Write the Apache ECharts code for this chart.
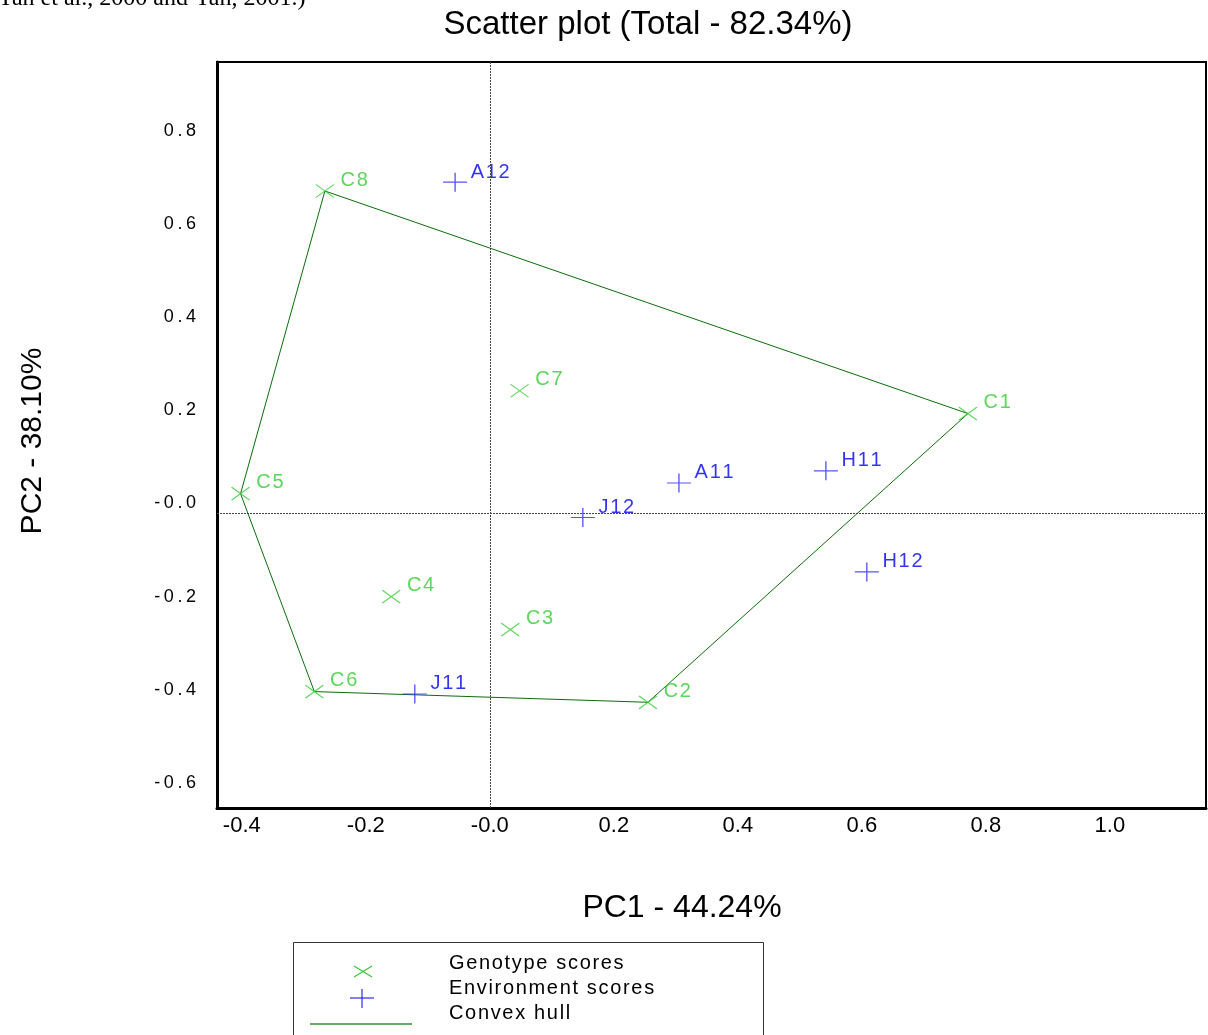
<!DOCTYPE html>
<html><head><meta charset="utf-8">
<script src="https://cdn.jsdelivr.net/npm/echarts@6/dist/echarts.min.js"></script>
<style>html,body{margin:0;padding:0;background:#fff}#c{width:1208px;height:1035px}</style>
</head><body><div id="c"></div>
<script>
// Genotype scores (green x)
const genoNames = ['C1','C2','C3','C4','C5','C6','C7','C8'];
const genoPC1 = [0.771, 0.255, 0.033, -0.159, -0.402, -0.283, 0.048, -0.266];
const genoPC2 = [0.193, -0.427, -0.271, -0.200, 0.021, -0.404, 0.242, 0.671];
// Environment scores (blue +)
const envNames = ['A11','A12','H11','H12','J11','J12'];
const envPC1 = [0.305, -0.056, 0.542, 0.608, -0.121, 0.150];
const envPC2 = [0.044, 0.690, 0.070, -0.147, -0.409, -0.030];
// Convex hull vertex order (genotypes)
const hullOrder = ['C8','C1','C2','C6','C5','C8'];
// Tick labels
const xTicks = [-0.4, -0.2, 0.0, 0.2, 0.4, 0.6, 0.8, 1.0];
const yTicks = [-0.6, -0.4, -0.2, 0.0, 0.2, 0.4, 0.6, 0.8];
// Reference (origin) lines
const refX = [0];
const refY = [-0.024];

const GREEN = '#33cc33', BLUE = '#0000f0', BLUEM = '#2a2aff', HULL = '#0b6e0b';
const genoData = genoNames.map((n,i)=>({name:n, value:[genoPC1[i], genoPC2[i]]}));
const envData = envNames.map((n,i)=>({name:n, value:[envPC1[i], envPC2[i]]}));
const hullData = hullOrder.map(n=>{const i=genoNames.indexOf(n);return [genoPC1[i], genoPC2[i]];});

const fmt = v => (Math.abs(v) < 1e-9 ? '-0.0' : v.toFixed(1));
const thin = s => s.split('').join('\u2009');
const hair = s => s.split('').join('\u200A');

const chart = echarts.init(document.getElementById('c'), null, {renderer:'canvas'});
chart.setOption({
  animation:false,
  backgroundColor:'#fff',
  grid:{left:217, right:2, top:62, bottom:227, show:true, borderColor:'#000', borderWidth:2, backgroundColor:'transparent'},
  xAxis:{type:'value', min:-0.44, max:1.155,
    axisLine:{show:true, onZero:false, lineStyle:{color:'#000', width:3}},
    axisTick:{show:false}, splitLine:{show:false},
    axisLabel:{customValues:xTicks, formatter:fmt, margin:7, color:'#000', fontSize:22, fontFamily:'Liberation Sans Narrow, Liberation Sans, Arial'}},
  yAxis:{type:'value', min:-0.654, max:0.948,
    axisLine:{show:true, onZero:false, lineStyle:{color:'#000', width:3}},
    axisTick:{show:false}, splitLine:{show:false},
    axisLabel:{customValues:yTicks, formatter:v=>thin(fmt(v)), margin:21, color:'#000', fontSize:18, fontFamily:'Liberation Sans, Arial'}},
  series:[
    {type:'line', data:hullData, showSymbol:false, symbol:'none', silent:true,
     lineStyle:{color:HULL, width:1}, z:2,
     markLine:{silent:true, symbol:'none', label:{show:false},
       lineStyle:{color:'#444', width:1, type:[2,1]},
       data:[...refX.map(v=>({xAxis:v})), ...refY.map(v=>({yAxis:v}))]}},
    {type:'scatter', data:genoData, symbol:'path://M0,0L18,13M18,0L0,13', symbolSize:[18,13], silent:true, z:3,
     itemStyle:{color:'rgba(0,0,0,0)', borderColor:GREEN, borderWidth:1.2},
     label:{show:true, formatter:p=>hair(p.name), position:'right', distance:6, offset:[0,-11], color:GREEN, fontSize:20, fontFamily:'Liberation Sans, Arial'}},
    {type:'scatter', data:envData, symbol:'path://M0,9.5L24,9.5M12,0L12,19', symbolSize:[24,19], silent:true, z:4,
     itemStyle:{color:'rgba(0,0,0,0)', borderColor:BLUEM, borderWidth:1.2},
     label:{show:true, formatter:p=>hair(p.name), position:'right', distance:3, offset:[0,-10], color:BLUE, fontSize:20, fontFamily:'Liberation Sans, Arial'}}
  ],
  graphic:[
    {type:'text', x:-3, y:11, style:{text:'Yan et al., 2000 and Yan, 2001.)', font:'24px "Liberation Serif", serif', fill:'#000', textVerticalAlign:'bottom'}},
    {type:'text', x:648, y:25, style:{text:'Scatter plot (Total - 82.34%)', font:'33px "Liberation Sans", Arial', fill:'#000', textAlign:'center', textVerticalAlign:'middle'}},
    {type:'text', x:682, y:908, style:{text:'PC1 - 44.24%', font:'32px "Liberation Sans", Arial', fill:'#000', textAlign:'center', textVerticalAlign:'middle'}},
    {type:'text', x:33, y:441, rotation:Math.PI/2, style:{text:'PC2 - 38.10%', font:'30px "Liberation Sans", Arial', fill:'#000', textAlign:'center', textVerticalAlign:'middle'}},
    {type:'rect', shape:{x:293.5, y:942.5, width:470, height:110}, style:{fill:'#fff', stroke:'#333', lineWidth:1}},
    {type:'polyline', shape:{points:[[354,966],[372,977]]}, style:{stroke:GREEN, lineWidth:1.2, fill:null}},
    {type:'polyline', shape:{points:[[372,966],[354,977]]}, style:{stroke:GREEN, lineWidth:1.2, fill:null}},
    {type:'polyline', shape:{points:[[350,998],[374,998]]}, style:{stroke:BLUEM, lineWidth:1.2, fill:null}},
    {type:'polyline', shape:{points:[[362,989],[362,1008]]}, style:{stroke:BLUEM, lineWidth:1.2, fill:null}},
    {type:'polyline', shape:{points:[[310,1024],[412,1024]]}, style:{stroke:'#66aa66', lineWidth:2, fill:null}},
    {type:'text', x:449, y:963, style:{text:hair('Genotype scores'), font:'20px "Liberation Sans", Arial', fill:'#000', textVerticalAlign:'middle'}},
    {type:'text', x:449, y:988, style:{text:hair('Environment scores'), font:'20px "Liberation Sans", Arial', fill:'#000', textVerticalAlign:'middle'}},
    {type:'text', x:449, y:1013, style:{text:hair('Convex hull'), font:'20px "Liberation Sans", Arial', fill:'#000', textVerticalAlign:'middle'}}
  ]
});
</script></body></html>
